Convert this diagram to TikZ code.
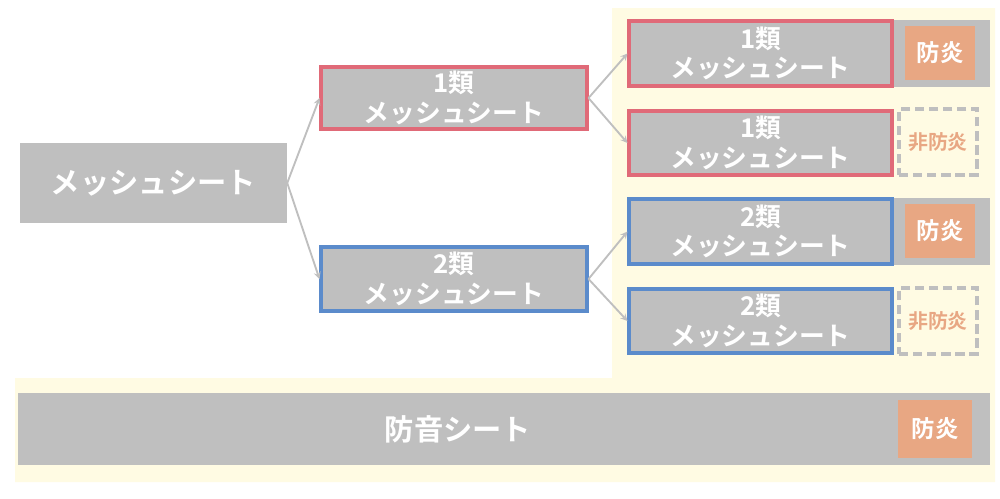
\documentclass[tikz,border=0pt]{standalone}
\usepackage{fontspec}
\setmainfont{Noto Sans CJK JP}[BoldFont={* Bold}]
\definecolor{sheetgray}{HTML}{BFBFBF}
\definecolor{onered}{HTML}{E06A78}
\definecolor{twoblue}{HTML}{5B8BCB}
\definecolor{fireorange}{HTML}{E8A783}
\definecolor{paleyellow}{HTML}{FFFBE3}
\tikzset{
  sheet/.style={fill=sheetgray,text=white,font=\bfseries\fontsize{22}{25}\selectfont,align=center,inner sep=0pt},
  red sheet/.style={sheet,draw=onered,line width=2.6pt},
  blue sheet/.style={sheet,draw=twoblue,line width=2.6pt},
  fire/.style={fill=fireorange,text=white,font=\bfseries\fontsize{20}{24}\selectfont,inner sep=0pt},
  nofire/.style={draw=sheetgray,dash pattern=on 8pt off 4pt,line width=2.6pt,fill=paleyellow,text=fireorange,font=\bfseries\fontsize{17}{20}\selectfont,inner sep=0pt},
  link/.style={draw=sheetgray,line width=1.6pt,-stealth}
}
\begin{document}
\begin{tikzpicture}[x=0.03cm,y=-0.03cm]
  \useasboundingbox (0,0) rectangle (1000,498);
  % background area
  \fill[paleyellow] (612,8) -- (995,8) -- (995,482) -- (15,482) -- (15,378) -- (612,378) -- cycle;
  % first level
  \node[sheet,minimum width=267*0.03cm,minimum height=80*0.03cm,font=\bfseries\fontsize{25}{30}\selectfont] (mesh) at (153.5,183) {メッシュシート};
  \node[red sheet,minimum width=266*0.03cm,minimum height=62*0.03cm] (m1) at (454,98) {1類\\メッシュシート};
  \node[blue sheet,minimum width=266*0.03cm,minimum height=64*0.03cm] (m2) at (454,279) {2類\\メッシュシート};
  % second level
  \fill[sheetgray] (893,20) rectangle (990,87);
  \fill[sheetgray] (893,198) rectangle (990,265);
  \node[red sheet,minimum width=263*0.03cm,minimum height=65*0.03cm] (r1) at (760.5,53.5) {1類\\メッシュシート};
  \node[red sheet,minimum width=263*0.03cm,minimum height=64*0.03cm] (r2) at (760.5,143) {1類\\メッシュシート};
  \node[blue sheet,minimum width=263*0.03cm,minimum height=65*0.03cm] (r3) at (760.5,231.5) {2類\\メッシュシート};
  \node[blue sheet,minimum width=263*0.03cm,minimum height=64*0.03cm] (r4) at (760.5,321) {2類\\メッシュシート};
  \node[fire,minimum width=70*0.03cm,minimum height=54*0.03cm] (f1) at (940,53) {防炎};
  \node[nofire,minimum width=78*0.03cm,minimum height=66*0.03cm] (n2) at (938,142) {非防炎};
  \node[fire,minimum width=70*0.03cm,minimum height=54*0.03cm] (f3) at (940,231) {防炎};
  \node[nofire,minimum width=78*0.03cm,minimum height=66*0.03cm] (n4) at (938,321) {非防炎};
  % soundproof sheet
  \node[sheet,minimum width=972*0.03cm,minimum height=72*0.03cm] (sound) at (504,429) {};
  \node[text=white,font=\bfseries\fontsize{25}{30}\selectfont] (soundlabel) at (458,429) {防音シート};
  \node[fire,minimum width=74*0.03cm,minimum height=58*0.03cm] (f5) at (935,429) {防炎};
  % connectors
  \draw[link] (mesh.east) -- (m1.west);
  \draw[link] (mesh.east) -- (m2.west);
  \draw[link] (m1.east) -- (r1.west);
  \draw[link] (m1.east) -- (r2.west);
  \draw[link] (m2.east) -- (r3.west);
  \draw[link] (m2.east) -- (r4.west);
\end{tikzpicture}
\end{document}
